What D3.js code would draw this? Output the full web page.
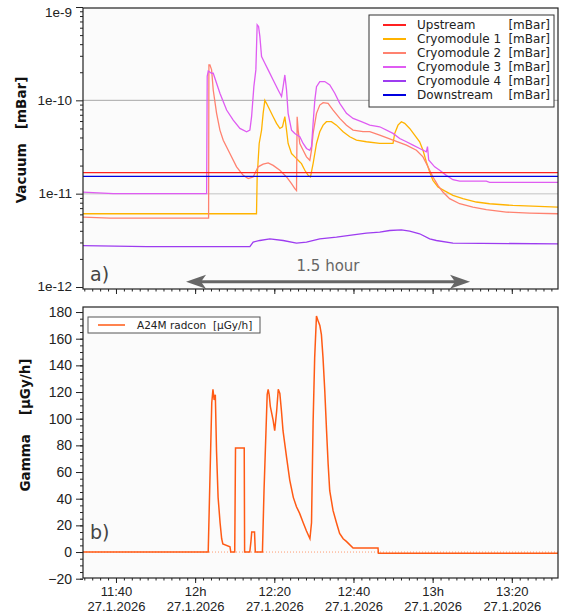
<!DOCTYPE html>
<html>
<head>
<meta charset="utf-8">
<script src="https://cdn.jsdelivr.net/npm/d3@7"></script>
<style>
body { margin: 0; background: #fff; }
svg { font-family: "DejaVu Sans", sans-serif; }
.axis path, .axis line { stroke: #222; }
.axis text { fill: #222; }
</style>
</head>
<body>
<svg id="chart" width="561" height="614"></svg>
<script>
// time is minutes relative to 12:00 on 27.1.2026
var startMin = -28.33, endMin = 91.67;

var vacNames = ["Upstream", "Cryomodule 1", "Cryomodule 2", "Cryomodule 3", "Cryomodule 4", "Downstream"];
var vacColors = ["#ff2020", "#ffb300", "#ff8270", "#df5cf2", "#9d3cf0", "#0000e0"];
var vacUnit = "[mBar]";
var vacTicks = [1e-12, 1e-11, 1e-10, 1e-9];

var upstream = [[-28.33, 1.68e-11], [91.67, 1.68e-11]];
var downstream = [[-28.33, 1.53e-11], [91.67, 1.53e-11]];

var cryo1 = [[-28.33, 6.09e-12], [15.5, 6.09e-12], [15.67, 1.51e-11], [16.18, 3.45e-11], [16.78, 4.8e-11],
  [17.18, 7.25e-11], [17.61, 1.0e-10], [18.03, 9.29e-11], [18.87, 7.87e-11], [19.71, 6.68e-11], [20.56, 5.66e-11],
  [21.4, 5.0e-11], [22.07, 5.21e-11], [22.66, 6.68e-11], [23.09, 4.8e-11], [23.49, 3.45e-11], [24.35, 2.69e-11],
  [25.18, 2.48e-11], [26.02, 2.28e-11], [26.87, 2.1e-11], [27.71, 1.78e-11], [28.55, 1.57e-11], [29.14, 1.51e-11],
  [29.8, 2.1e-11], [30.66, 3.45e-11], [31.49, 4.61e-11], [32.33, 5.42e-11], [33.17, 5.9e-11], [34.43, 5.9e-11],
  [35.7, 5.42e-11], [37.38, 4.61e-11], [39.06, 4.07e-11], [40.75, 3.74e-11], [43.27, 3.6e-11], [46.63, 3.45e-11],
  [49.99, 3.45e-11], [50.42, 4.42e-11], [51.25, 5.42e-11], [52.1, 5.9e-11], [52.94, 5.66e-11], [54.2, 5.0e-11],
  [55.46, 4.24e-11], [56.72, 3.6e-11], [57.56, 2.92e-11], [58.41, 2.19e-11], [59.25, 1.71e-11], [60.08, 1.39e-11],
  [61.34, 1.18e-11], [63.04, 1.07e-11], [65.13, 9.59e-12], [67.65, 8.84e-12], [71.04, 8.14e-12], [74.39, 7.8e-12],
  [80.27, 7.48e-12], [91.67, 7.19e-12]];

var cryo2 = [[-28.33, 5.61e-12], [-21.5, 5.48e-12], [3.4, 5.48e-12], [3.48, 2.4e-10], [3.73, 2.4e-10], [4.16, 2.12e-10],
  [4.57, 1.29e-10], [5.42, 7.25e-11], [6.26, 4.8e-11], [7.1, 3.74e-11], [8.78, 2.69e-11], [10.47, 1.94e-11],
  [12.14, 1.57e-11], [13.4, 1.45e-11], [14.66, 1.51e-11], [15.92, 1.94e-11], [17.18, 2.07e-11], [18.45, 2.14e-11],
  [19.71, 2.01e-11], [21.4, 1.78e-11], [23.09, 1.51e-11], [24.35, 1.28e-11], [25.18, 1.13e-11], [25.61, 1.08e-11],
  [25.77, 6.68e-11], [26.02, 4.8e-11], [26.44, 3.45e-11], [27.28, 2.92e-11], [28.13, 2.48e-11], [28.97, 2.28e-11],
  [29.4, 2.92e-11], [29.8, 4.42e-11], [30.66, 7.25e-11], [31.49, 8.9e-11], [32.33, 9.44e-11], [33.59, 9.29e-11],
  [34.85, 7.87e-11], [36.54, 6.4e-11], [38.23, 5.42e-11], [39.9, 4.8e-11], [42.42, 4.61e-11], [44.11, 4.61e-11],
  [46.63, 4.24e-11], [49.99, 3.74e-11], [53.37, 3.31e-11], [55.9, 2.92e-11], [57.56, 2.48e-11], [58.82, 1.94e-11],
  [60.08, 1.51e-11], [61.34, 1.23e-11], [62.6, 1.04e-11], [64.29, 8.84e-12], [66.82, 7.8e-12], [70.17, 7.19e-12],
  [73.56, 6.73e-12], [78.6, 6.35e-12], [84.5, 6.2e-12], [91.67, 6.09e-12]];

var cryo3 = [[-28.33, 1.04e-11], [-20.7, 1.0e-11], [2.9, 1.0e-11], [3.05, 1.81e-10], [3.31, 2.06e-10], [4.16, 1.95e-10],
  [4.57, 1.95e-10], [6.26, 1.19e-10], [7.95, 7.87e-11], [9.62, 6.14e-11], [11.31, 5.0e-11], [13.0, 4.61e-11],
  [13.83, 4.8e-11], [14.26, 6.68e-11], [14.84, 1.41e-10], [15.34, 2.12e-10], [15.67, 6.46e-10], [16.02, 6.19e-10],
  [16.35, 4.84e-10], [16.78, 2.95e-10], [17.61, 2.5e-10], [18.45, 2.12e-10], [19.71, 1.65e-10], [20.97, 1.29e-10],
  [21.83, 1.1e-10], [22.23, 1.4e-10], [22.66, 1.87e-10], [23.09, 1.29e-10], [23.49, 7.25e-11], [24.35, 4.8e-11],
  [25.18, 4.42e-11], [26.44, 4.07e-11], [27.28, 3.45e-11], [28.13, 3.05e-11], [28.97, 2.92e-11], [29.4, 3.2e-11],
  [29.8, 5.66e-11], [30.23, 1.0e-10], [30.66, 1.4e-10], [31.49, 1.59e-10], [32.75, 1.59e-10], [34.02, 1.46e-10],
  [35.28, 1.19e-10], [36.54, 9.29e-11], [38.23, 7.25e-11], [39.9, 6.4e-11], [42.01, 5.9e-11], [44.11, 5.42e-11],
  [46.63, 5.21e-11], [49.99, 4.42e-11], [51.68, 3.9e-11], [53.37, 3.6e-11], [55.04, 3.31e-11], [56.72, 3.05e-11],
  [58.41, 2.81e-11], [58.7, 3.2e-11], [59.0, 2.3e-11], [60.51, 1.94e-11], [61.77, 1.78e-11], [63.46, 1.57e-11],
  [65.13, 1.41e-11], [66.82, 1.36e-11], [73.56, 1.36e-11], [74.39, 1.32e-11], [91.67, 1.32e-11]];

var cryo4 = [[-28.33, 2.78e-12], [-12.2, 2.71e-12], [13.83, 2.71e-12], [14.66, 3.03e-12], [16.35, 3.15e-12],
  [18.87, 3.28e-12], [22.23, 3.15e-12], [25.61, 2.95e-12], [28.13, 3.03e-12], [31.49, 3.28e-12], [35.7, 3.42e-12],
  [39.9, 3.62e-12], [43.27, 3.78e-12], [46.63, 3.87e-12], [49.15, 4.03e-12], [52.1, 4.1e-12], [54.2, 3.97e-12],
  [56.72, 3.72e-12], [59.25, 3.28e-12], [60.93, 3.15e-12], [65.13, 2.95e-12], [91.67, 2.9e-12]];

var vacSeries = [upstream, cryo1, cryo2, cryo3, cryo4, downstream];

var gammaName = "A24M radcon  [\u00b5Gy/h]";
var gammaColor = "#ff5a14";
var gammaTicks = [-20, 0, 20, 40, 60, 80, 100, 120, 140, 160, 180];
var gamma = [[-28.33, 0], [3.3, 0], [3.7, 50], [4.2, 112], [4.5, 122], [4.8, 114], [5.1, 118], [5.4, 76], [5.8, 41],
  [6.3, 22], [6.7, 10], [7.0, 6], [8.8, 4], [9.0, 0], [10.0, 0], [10.2, 78], [12.4, 78], [12.5, 0], [13.8, 0],
  [14.1, 8], [14.3, 15], [15.0, 15], [15.2, 0], [17.0, 0], [17.4, 46], [17.9, 91], [18.2, 118], [18.45, 122],
  [18.7, 118], [19.0, 109], [19.7, 99], [20.1, 91], [20.6, 106], [21.0, 122], [21.4, 119], [21.8, 106], [22.2, 91],
  [23.1, 71], [23.9, 54], [24.8, 41], [25.6, 34], [26.4, 29], [27.3, 22], [28.1, 16], [29.0, 10], [29.4, 22],
  [29.8, 97], [30.2, 146], [30.65, 177], [31.1, 173], [31.5, 170], [31.9, 163], [32.3, 146], [32.75, 121],
  [33.2, 91], [33.6, 66], [34.0, 46], [34.85, 31], [35.7, 22], [36.5, 14], [37.4, 10], [38.2, 8], [39.9, 3],
  [46.2, 3], [46.3, -1], [91.67, -1]];

// annotation: 1.5 hour arrow [startMin, endMin, value]
var arrowSpan = [-2.3, 69.45, 1.14e-12];
var arrowText = "1.5 hour";

var options = {
    left: 83, right: 558,
    topY0: 8, topY1: 289,
    botY0: 307, botY1: 578
};

var t0 = new Date(2026, 0, 27, 12, 0, 0);
function tm(m) { return new Date(t0.getTime() + m * 60000); }

var svg = d3.select('#chart');

var x = d3.scaleTime().domain([tm(startMin), tm(endMin)]).range([options.left, options.right]);
var yVac = d3.scaleLog().domain([1e-12, 1e-9]).range([287, 7]);
var yGam = d3.scaleLinear().domain([-20, 184]).range([578.7, 306.7]);

var defs = svg.append('defs');
defs.append('clipPath').attr('id', 'clipTop').append('rect')
    .attr('x', options.left).attr('y', options.topY0)
    .attr('width', options.right - options.left).attr('height', options.topY1 - options.topY0);
defs.append('clipPath').attr('id', 'clipBot').append('rect')
    .attr('x', options.left).attr('y', options.botY0)
    .attr('width', options.right - options.left).attr('height', options.botY1 - options.botY0);

// plot backgrounds
[[options.topY0, options.topY1], [options.botY0, options.botY1]].forEach(function(p) {
    svg.append('rect').attr('x', options.left).attr('y', p[0])
        .attr('width', options.right - options.left).attr('height', p[1] - p[0])
        .style('fill', '#fbfbfb');
});

// gridlines top
svg.append('line').attr('x1', options.left).attr('x2', options.right)
    .attr('y1', yVac(1e-10)).attr('y2', yVac(1e-10)).style('stroke', '#a8a8a8').style('stroke-width', 1);
svg.append('line').attr('x1', options.left).attr('x2', options.right)
    .attr('y1', yVac(1e-11)).attr('y2', yVac(1e-11)).style('stroke', '#d6d6d6').style('stroke-width', 1.5);

// vacuum lines
var vacLine = d3.line().x(function(d) { return x(tm(d[0])); }).y(function(d) { return yVac(d[1]); });
var topG = svg.append('g').attr('clip-path', 'url(#clipTop)');
var drawOrder = [4, 1, 2, 3, 0, 5];
drawOrder.forEach(function(i) {
    topG.append('path').datum(vacSeries[i])
        .attr('d', vacLine)
        .style('fill', 'none')
        .style('stroke', vacColors[i])
        .style('stroke-width', 1.3);
});

// arrow annotation
var ax1 = x(tm(arrowSpan[0])), ax2 = x(tm(arrowSpan[1])), ay = yVac(arrowSpan[2]);
svg.append('line').attr('x1', ax1 + 14).attr('x2', ax2 - 14).attr('y1', ay).attr('y2', ay)
    .style('stroke', '#666').style('stroke-width', 3);
svg.append('path').attr('d', 'M' + ax1 + ',' + ay + 'L' + (ax1 + 20) + ',' + (ay - 7) + 'L' + (ax1 + 15) + ',' + ay + 'L' + (ax1 + 20) + ',' + (ay + 7) + 'Z')
    .style('fill', '#666');
svg.append('path').attr('d', 'M' + ax2 + ',' + ay + 'L' + (ax2 - 20) + ',' + (ay - 7) + 'L' + (ax2 - 15) + ',' + ay + 'L' + (ax2 - 20) + ',' + (ay + 7) + 'Z')
    .style('fill', '#666');
svg.append('text').attr('x', (ax1 + ax2) / 2).attr('y', ay - 11)
    .style('text-anchor', 'middle').style('font-size', '15px').style('fill', '#666')
    .text(arrowText);

// gamma
var botG = svg.append('g').attr('clip-path', 'url(#clipBot)');
botG.append('line').attr('x1', options.left).attr('x2', options.right)
    .attr('y1', yGam(0)).attr('y2', yGam(0))
    .style('stroke', '#ff9a70').style('stroke-width', 1).style('stroke-dasharray', '1,2');
var gamLine = d3.line().x(function(d) { return x(tm(d[0])); }).y(function(d) { return yGam(d[1]); });
botG.append('path').datum(gamma).attr('d', gamLine)
    .style('fill', 'none').style('stroke', gammaColor).style('stroke-width', 1.5);

// frames
[[options.topY0, options.topY1], [options.botY0, options.botY1]].forEach(function(p) {
    svg.append('rect').attr('x', options.left).attr('y', p[0])
        .attr('width', options.right - options.left).attr('height', p[1] - p[0])
        .style('fill', 'none').style('stroke', '#222').style('stroke-width', 1.2);
});

// y axes
var vacMinor = [];
vacTicks.slice(0, 3).forEach(function(d) { for (var k = 2; k < 10; k++) vacMinor.push(d * k); });
svg.append('g').attr('class', 'axis').attr('transform', 'translate(' + options.left + ',0)')
    .call(d3.axisLeft(yVac).tickValues(vacMinor).tickSize(3).tickFormat(''))
    .select('.domain').remove();
svg.append('g').attr('class', 'axis').attr('transform', 'translate(' + options.left + ',0)')
    .call(d3.axisLeft(yVac).tickValues(vacTicks).tickSize(7).tickPadding(4)
        .tickFormat(function(d) { return '1e' + Math.round(Math.log10(d)); }))
    .call(function(g) { g.select('.domain').remove(); })
    .selectAll('text').style('font-size', '13.5px').attr('y', function(d) {
        return d === 1e-9 ? 5 : (d === 1e-12 ? -1 : 0);
    });

svg.append('g').attr('class', 'axis').attr('transform', 'translate(' + options.left + ',0)')
    .call(d3.axisLeft(yGam).tickValues(d3.range(-20, 184, 5)).tickSize(3).tickFormat(''))
    .select('.domain').remove();
svg.append('g').attr('class', 'axis').attr('transform', 'translate(' + options.left + ',0)')
    .call(d3.axisLeft(yGam).tickValues(gammaTicks).tickSize(7).tickPadding(4))
    .call(function(g) { g.select('.domain').remove(); })
    .selectAll('text').style('font-size', '14px');

// x axes
var minorTimes = d3.timeMinute.every(2).range(tm(startMin), tm(endMin));
var majorTimes = d3.timeMinute.every(20).range(tm(startMin), tm(endMin));
[options.topY1, options.botY1].forEach(function(yy, idx) {
    svg.append('g').attr('class', 'axis').attr('transform', 'translate(0,' + yy + ')')
        .call(d3.axisBottom(x).tickValues(minorTimes).tickSize(2.5).tickFormat(''))
        .select('.domain').remove();
    var g = svg.append('g').attr('class', 'axis').attr('transform', 'translate(0,' + yy + ')')
        .call(d3.axisBottom(x).tickValues(majorTimes).tickSize(5).tickFormat(''));
    g.select('.domain').remove();
    if (idx === 1) {
        g.selectAll('.tick').each(function(d) {
            var t = d3.select(this).select('text');
            var top = d.getMinutes() === 0 ? d.getHours() + 'h' : d3.timeFormat('%H:%M')(d);
            t.text(null).attr('y', 0).attr('dy', null).style('font-size', '13px');
            t.append('tspan').attr('x', 0).attr('y', 18).text(top);
            t.append('tspan').attr('x', 0).attr('y', 33).text(d.getDate() + '.' + (d.getMonth() + 1) + '.' + d.getFullYear());
        });
    }
});

// axis titles
svg.append('text').attr('transform', 'translate(21,140)rotate(-90)')
    .attr('dy', '0.35em').style('text-anchor', 'middle')
    .style('font-weight', 'bold').style('font-size', '13.5px').style('fill', '#111')
    .text('Vacuum\u00a0\u00a0\u00a0[mBar]');
svg.append('text').attr('transform', 'translate(25,425)rotate(-90)')
    .attr('dy', '0.35em').style('text-anchor', 'middle')
    .style('font-weight', 'bold').style('font-size', '13.5px').style('fill', '#111')
    .text('Gamma\u00a0\u00a0\u00a0\u00a0[\u00b5Gy/h]');

// panel letters
svg.append('text').attr('x', 90).attr('y', 281).style('font-size', '19px').style('fill', '#444').text('a)');
svg.append('text').attr('x', 90).attr('y', 539).style('font-size', '19px').style('fill', '#444').text('b)');

// legend top
var legG = svg.append('g').attr('transform', 'translate(369,15)');
legG.append('rect').attr('width', 185).attr('height', 92)
    .style('fill', '#fff').style('stroke', '#333').style('stroke-width', 1);
vacNames.forEach(function(n, i) {
    var yy = 10 + i * 14;
    legG.append('line').attr('x1', 14).attr('x2', 37).attr('y1', yy).attr('y2', yy)
        .style('stroke', vacColors[i]).style('stroke-width', 2);
    legG.append('text').attr('x', 48).attr('y', yy).attr('dy', '0.35em')
        .style('font-size', '12px').style('fill', '#222').text(n);
    legG.append('text').attr('x', 181).attr('y', yy).attr('dy', '0.35em')
        .style('font-size', '12px').style('fill', '#222').style('text-anchor', 'end').text(vacUnit);
});

// legend bottom
var leg2 = svg.append('g').attr('transform', 'translate(88,317)');
leg2.append('rect').attr('width', 172).attr('height', 16)
    .style('fill', '#fff').style('stroke', '#555').style('stroke-width', 1);
leg2.append('line').attr('x1', 10).attr('x2', 37).attr('y1', 8).attr('y2', 8)
    .style('stroke', gammaColor).style('stroke-width', 1.5);
leg2.append('text').attr('x', 49).attr('y', 8).attr('dy', '0.35em')
    .style('font-size', '10.5px').style('fill', '#222').style('white-space', 'pre').text(gammaName);
</script>
</body>
</html>
